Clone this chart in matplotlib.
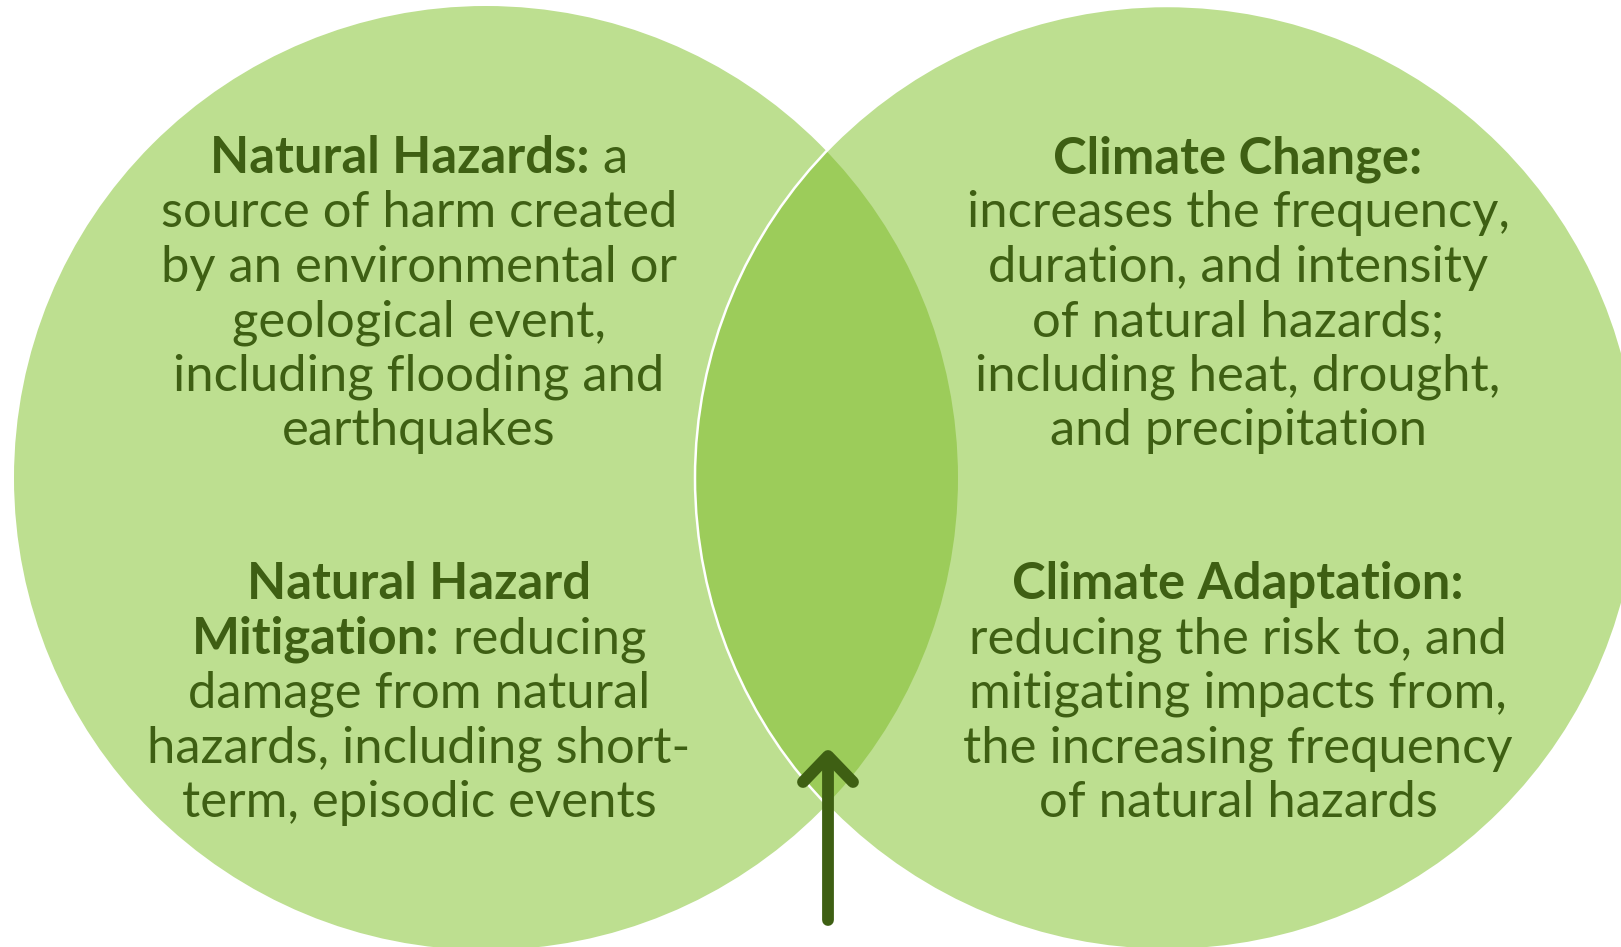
import matplotlib.pyplot as plt
from matplotlib.patches import Circle

# circles: (center x, center y, radius) in pixel units of the 1621x947 canvas
left_circle = (486, 478, 472)
right_circle = (1167, 478, 472)

light_green = '#bddf90'
lens_green = '#9ccc5a'
text_green = '#3e5f13'

# text blocks: list of (bold part, regular part) per line
block_left_top = [
    ("Natural Hazards:", " a"),
    ("", "source of harm created"),
    ("", "by an environmental or"),
    ("", "geological event,"),
    ("", "including flooding and"),
    ("", "earthquakes"),
]
block_left_bottom = [
    ("Natural Hazard", ""),
    ("Mitigation:", " reducing"),
    ("", "damage from natural"),
    ("", "hazards, including short-"),
    ("", "term, episodic events"),
]
block_right_top = [
    ("Climate Change:", ""),
    ("", "increases the frequency,"),
    ("", "duration, and intensity"),
    ("", "of natural hazards;"),
    ("", "including heat, drought,"),
    ("", "and precipitation"),
]
block_right_bottom = [
    ("Climate Adaptation:", ""),
    ("", "reducing the risk to, and"),
    ("", "mitigating impacts from,"),
    ("", "the increasing frequency"),
    ("", "of natural hazards"),
]

W, H = 1621, 947
fig = plt.figure(figsize=(W / 100, H / 100), dpi=100)
ax = fig.add_axes([0, 0, 1, 1])
ax.set_xlim(0, W)
ax.set_ylim(H, 0)
ax.axis('off')

c1 = Circle(left_circle[:2], left_circle[2], facecolor=light_green, edgecolor='none', zorder=1)
c2 = Circle(right_circle[:2], right_circle[2], facecolor=light_green, edgecolor='none', zorder=2)
ax.add_patch(c1)
ax.add_patch(c2)

# lens = right circle clipped to left circle
lens = Circle(right_circle[:2], right_circle[2], facecolor=lens_green, edgecolor='none', zorder=3)
ax.add_patch(lens)
clip = Circle(left_circle[:2], left_circle[2], transform=ax.transData)
lens.set_clip_path(clip)

edge = Circle(right_circle[:2], right_circle[2], facecolor='none', edgecolor='white', lw=1.8, zorder=4)
ax.add_patch(edge)

# arrow
ax.plot([828, 828], [920, 758], color=text_green, lw=8.5, solid_capstyle='round', zorder=5)
ax.plot([803, 828, 853], [782, 756, 782], color=text_green, lw=8.5,
        solid_capstyle='round', solid_joinstyle='round', zorder=5)

FONT = 'Lato'
FS = 36.5
renderer = fig.canvas.get_renderer()


def draw_block(lines, cx, y0, dy=54.4):
    for i, (b, r) in enumerate(lines):
        y = y0 + i * dy
        tb = ax.text(0, y, b, fontsize=FS, family=FONT, fontweight='bold', color=text_green,
                     ha='left', va='baseline', zorder=6)
        tr = ax.text(0, y, r, fontsize=FS, family=FONT, color=text_green,
                     ha='left', va='baseline', zorder=6)
        wb = tb.get_window_extent(renderer).width if b else 0
        wr = tr.get_window_extent(renderer).width if r else 0
        x0 = cx - (wb + wr) / 2
        tb.set_x(x0)
        tr.set_x(x0 + wb)


draw_block(block_left_top, 419, 173)
draw_block(block_left_bottom, 419, 599)
draw_block(block_right_top, 1238, 173)
draw_block(block_right_bottom, 1238, 599)

fig.savefig('out.png', dpi=100)
